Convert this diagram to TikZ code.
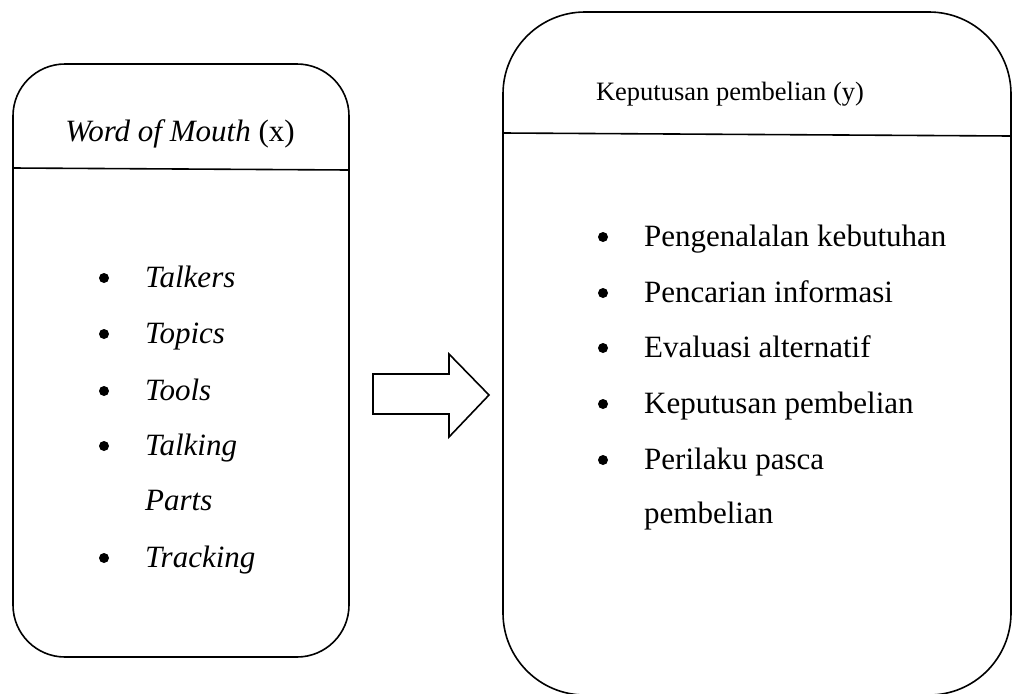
\documentclass[tikz,border=0pt]{standalone}
\usepackage{fontspec}
\setmainfont{Liberation Serif}
\begin{document}
\begin{tikzpicture}[x=1pt,y=-1pt,
  frame/.style={line width=1.6pt,draw=black},
  title/.style={anchor=base,inner sep=0pt},
  item/.style={anchor=base west,font=\fontsize{31}{36}\selectfont,inner sep=0pt},
  bul/.style={circle,fill=black,inner sep=0pt,minimum size=10pt}]
\useasboundingbox (0,0) rectangle (1013,694);
% left box
\draw[frame,rounded corners=52pt] (13,64) rectangle (349,657);
\draw[frame] (13,168) -- (349,170);
% right box
\draw[frame,rounded corners=82pt] (503,12) rectangle (1011,695);
\draw[frame] (503,133) -- (1011,136);
% arrow
\draw[frame,line join=miter] (373,374) -- (449,374) -- (449,354) -- (489,395) -- (449,437) -- (449,414) -- (373,414) -- cycle;
% titles
\node[title,font=\fontsize{31}{36}\selectfont] (tl) at (180,141) {\textit{Word of Mouth} (x)};
\node[title,font=\fontsize{26.5}{30}\selectfont] (tr) at (730,100) {Keputusan pembelian (y)};
% left list
\foreach \n/\y/\t in {l1/287/Talkers,l2/343/Topics,l3/400/Tools,l4/455/Talking,l6/567/Tracking}{
  \node[bul] (b\n) at (104,\y-9) {};
  \node[item] (\n) at (145,\y) {\textit{\t}};
}
\node[item] (l5) at (145,510) {\textit{Parts}};
% right list
\foreach \n/\y/\t in {r1/246/Pengenalalan kebutuhan,r2/302/Pencarian informasi,r3/357/Evaluasi alternatif,r4/413/Keputusan pembelian,r5/469/Perilaku pasca}{
  \node[bul] (b\n) at (603,\y-9) {};
  \node[item] (\n) at (644,\y) {\t};
}
\node[item] (r6) at (644,523) {pembelian};
\end{tikzpicture}
\end{document}
